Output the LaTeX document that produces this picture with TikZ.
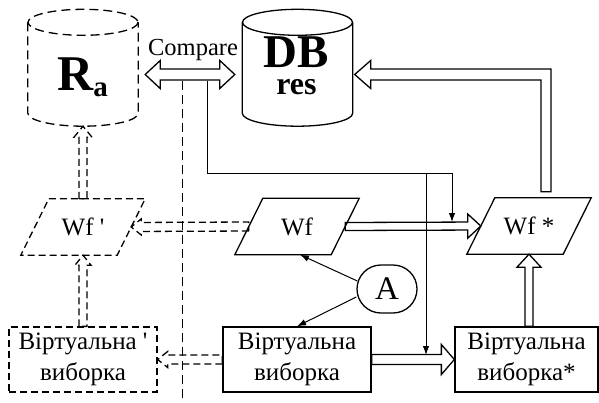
\documentclass[tikz,border=0pt]{standalone}
\usepackage{fontspec}
\setmainfont{Liberation Serif}
\usetikzlibrary{calc,shapes.misc,arrows.meta}
\tikzset{
  lw/.style={line width=1.3pt},
  dsh/.style={dash pattern=on 9pt off 5pt},
  dsha/.style={dash pattern=on 7pt off 4pt},
  vbox/.style={draw,lw,minimum width=148pt,minimum height=65pt,inner sep=0pt,align=center,font=\fontsize{25}{31}\selectfont},
  parabox/.style={inner sep=0pt,minimum width=96pt,minimum height=56pt,font=\fontsize{25}{30}\selectfont},
  cylbox/.style={inner sep=0pt,minimum width=110pt,minimum height=117pt},
  thinl/.style={line width=1pt},
  tipl/.style={-{Latex[length=9pt,width=6.5pt]}},
}
% block arrow: style, start, tip, shaft half, head half, head length
\newcommand\barrow[6]{%
  \coordinate (bh) at ($(#3)!#6!(#2)$);
  \draw[#1] ($(#2)!#4!90:(#3)$) -- ($(bh)!#4!90:(#3)$) -- ($(bh)!#5!90:(#3)$) -- (#3)
    -- ($(bh)!#5!-90:(#3)$) -- ($(bh)!#4!-90:(#3)$) -- ($(#2)!#4!-90:(#3)$) -- cycle;}
% double-headed block arrow
\newcommand\dbarrow[6]{%
  \coordinate (ba) at ($(#2)!#6!(#3)$);
  \coordinate (bb) at ($(#3)!#6!(#2)$);
  \draw[#1] (#2) -- ($(ba)!#5!90:(#3)$) -- ($(ba)!#4!90:(#3)$) -- ($(bb)!#4!90:(#3)$) -- ($(bb)!#5!90:(#3)$) -- (#3)
    -- ($(bb)!#5!-90:(#3)$) -- ($(bb)!#4!-90:(#3)$) -- ($(ba)!#4!-90:(#3)$) -- ($(ba)!#5!-90:(#3)$) -- cycle;}
% parallelogram outline around a node
\newcommand\paral[2]{%
  \draw[#1] ($(#2.north west)+(14,0)$) -- ($(#2.north east)+(14,0)$) -- ($(#2.south east)+(-14,0)$) -- ($(#2.south west)+(-14,0)$) -- cycle;}
% cylinder outline around a node
\newcommand\cyl[2]{%
  \draw[#1] ($(#2.north)+(0,13.5)$) ellipse [x radius=55, y radius=13];
  \draw[#1] ($(#2.north west)+(0,13.5)$) -- ($(#2.south west)+(0,-13)$)
    .. controls ($(#2.south west)+(0,-5.8)$) and ($(#2.south)+(-30.4,0)$) .. (#2.south)
    .. controls ($(#2.south)+(30.4,0)$) and ($(#2.south east)+(0,-5.8)$) .. ($(#2.south east)+(0,-13)$)
    -- ($(#2.north east)+(0,13.5)$);}
\begin{document}
\begin{tikzpicture}[x=1pt,y=-1pt]
\useasboundingbox (0,0) rectangle (599,402);
% cylinders
\node[cylbox] (Ra) at (83,67.5) {};
\node[cylbox] (DB) at (297.5,67.5) {};
\cyl{lw,dsh}{Ra}
\cyl{lw}{DB}
\node[anchor=base west,inner sep=0pt] (Rat) at (57,90) {{\fontsize{50}{50}\selectfont\bfseries R}\raisebox{-6pt}{\fontsize{29}{29}\selectfont\bfseries a}};
\node[anchor=north,inner sep=0pt,align=center,font=\fontsize{32}{27}\selectfont\bfseries] (DBt) at (296.5,37) {{\fontsize{47}{47}\selectfont DB}\\res};
\node[anchor=base,inner sep=0pt,font=\fontsize{24.5}{25}\selectfont] (cmp) at (193,55) {Compare};
% parallelograms
\node[parabox] (Wfp) at (83,227) {Wf \textquotesingle\hspace{14pt}};
\node[parabox] (Wf) at (297,226.5) {Wf};
\node[parabox] (Wfs) at (529,226) {Wf *};
\paral{lw,dsha}{Wfp}
\paral{lw}{Wf}
\paral{lw}{Wfs}
% boxes
\node[vbox,dsha] (Vp) at (83,359.5) {Віртуальна \textquotesingle\\виборка};
\node[vbox] (V) at (297,359.5) {Віртуальна\\виборка};
\node[vbox,minimum width=143pt] (Vs) at (526.5,359.5) {Віртуальна\\виборка*};
\node[draw,lw,rounded rectangle,minimum width=60pt,minimum height=48pt,inner sep=0pt,font=\fontsize{33}{33}\selectfont] (A) at (387,289) {A};
% block arrows
\coordinate (cl) at ($(Ra.east)+(7,7)$);
\coordinate (cr) at ($(DB.west)+(-7.5,7)$);
\dbarrow{lw}{cl}{cr}{5.5pt}{14pt}{15pt}
\barrow{lw}{Wf.east}{Wfs.west}{4pt}{12pt}{13pt}
\barrow{lw}{V.east}{Vs.west}{5pt}{15pt}{13pt}
\coordinate (vsn) at (Wfs.south |- Vs.north);
\barrow{lw}{vsn}{Wfs.south}{4pt}{12pt}{13pt}
\barrow{lw,dsha}{Wf.west}{Wfp.east}{4.5pt}{8pt}{10pt}
\barrow{lw,dsha}{V.west}{Vp.east}{4.5pt}{8pt}{10pt}
\barrow{lw,dsha}{Vp.north}{Wfp.south}{4pt}{8pt}{10pt}
\barrow{lw,dsha}{Wfp.north}{Ra.south}{4pt}{9pt}{11pt}
% L-shaped arrow to DB
\coordinate (c1) at ($(Wfs.north)+(17,-6)$);
\coordinate (dbt) at ($(DB.east)+(2,7)$);
\draw[lw] ($(c1)+(5,0)$) -- ($(c1|-dbt)+(5,-5.5)$) -- ($(dbt)+(16,-5.5)$) -- ($(dbt)+(16,-14)$) -- (dbt)
  -- ($(dbt)+(16,14)$) -- ($(dbt)+(16,5.5)$) -- ($(c1|-dbt)+(-5,5.5)$) -- ($(c1)+(-5,0)$) -- cycle;
% thin lines
\coordinate (s1) at (207,80.5);
\coordinate (k1) at (207,173);
\coordinate (k2) at (452,173);
\coordinate (k3) at (426,173);
\coordinate (t1) at (452,222);
\coordinate (t2) at (426,355);
\draw[thinl,tipl] (s1) -- (k1) -- (k2) -- (t1);
\draw[thinl,tipl] (k3) -- (t2);
\coordinate (s2) at (182,80.5);
\coordinate (e2) at (182,402);
\draw[thinl,dsh] (s2) -- (e2);
\draw[thinl,tipl] ($(A.west)+(1,-8)$) -- ($(Wf.south)+(3,0)$);
\draw[thinl,tipl] ($(A.west)+(0,8)$) -- (V.north);
\end{tikzpicture}
\end{document}
